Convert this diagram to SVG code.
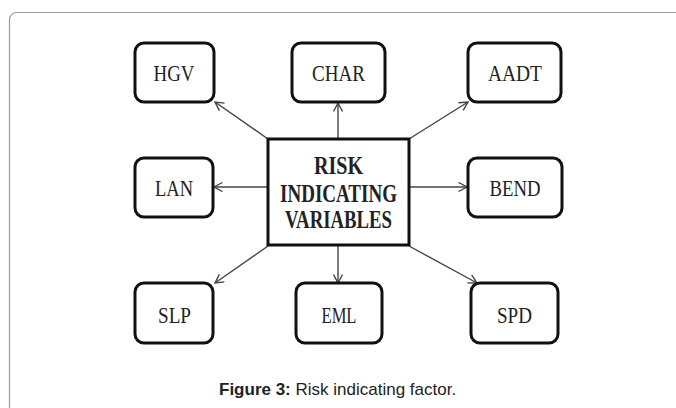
<svg xmlns="http://www.w3.org/2000/svg" width="676" height="408" viewBox="0 0 676 408">
<style>
.node rect{fill:#fff;stroke:#111;stroke-width:3}
.lbl{font-family:"Liberation Serif","Times New Roman",serif;font-size:24px;fill:#222;text-anchor:middle}
.ctr{font-family:"Liberation Serif","Times New Roman",serif;font-size:25px;font-weight:bold;fill:#222;text-anchor:middle}
.conn line{stroke:#444;stroke-width:1.4;marker-end:url(#ah)}
.cap{font-family:"Liberation Sans",Arial,sans-serif;font-size:17px;fill:#222}
</style>
<defs>
<marker id="ah" markerUnits="userSpaceOnUse" markerWidth="12" markerHeight="12" refX="9" refY="5" orient="auto">
<path d="M0.5,0.5 L9,5 L0.5,9.5" fill="none" stroke="#444" stroke-width="1.4"/>
</marker>
</defs>
<rect x="9.5" y="12.5" width="700" height="430" rx="7" fill="#fff" stroke="#9a9a9a" stroke-width="1.2"/>
<g class="conn">
<line x1="268" y1="139" x2="215" y2="102"/>
<line x1="338" y1="139" x2="338" y2="103"/>
<line x1="409" y1="139" x2="468" y2="102"/>
<line x1="268" y1="187" x2="214" y2="187"/>
<line x1="409" y1="187" x2="467" y2="187"/>
<line x1="268" y1="246" x2="215" y2="283"/>
<line x1="338" y1="246" x2="338" y2="283"/>
<line x1="409" y1="246" x2="477" y2="283"/>
</g>
<g id="center" class="node">
<rect x="268" y="139" width="141" height="106" rx="0"/>
<text class="ctr" x="338.5" y="174" textLength="49" lengthAdjust="spacingAndGlyphs">RISK</text>
<text class="ctr" x="338.5" y="202" textLength="117" lengthAdjust="spacingAndGlyphs">INDICATING</text>
<text class="ctr" x="338.5" y="228" textLength="107" lengthAdjust="spacingAndGlyphs">VARIABLES</text>
</g>
<g id="hgv" class="node">
<rect x="135" y="43" width="79" height="59" rx="9"/>
<text class="lbl" x="174" y="81" textLength="41" lengthAdjust="spacingAndGlyphs">HGV</text>
</g>
<g id="char" class="node">
<rect x="292" y="43" width="93" height="59" rx="9"/>
<text class="lbl" x="338.5" y="81" textLength="53" lengthAdjust="spacingAndGlyphs">CHAR</text>
</g>
<g id="aadt" class="node">
<rect x="468" y="43" width="93" height="59" rx="9"/>
<text class="lbl" x="515" y="81" textLength="54" lengthAdjust="spacingAndGlyphs">AADT</text>
</g>
<g id="lan" class="node">
<rect x="135" y="158" width="78" height="59" rx="9"/>
<text class="lbl" x="174" y="196" textLength="38" lengthAdjust="spacingAndGlyphs">LAN</text>
</g>
<g id="bend" class="node">
<rect x="468" y="158" width="94" height="59" rx="9"/>
<text class="lbl" x="515" y="196" textLength="51" lengthAdjust="spacingAndGlyphs">BEND</text>
</g>
<g id="slp" class="node">
<rect x="135" y="283" width="78" height="60" rx="9"/>
<text class="lbl" x="174.5" y="323" textLength="33" lengthAdjust="spacingAndGlyphs">SLP</text>
</g>
<g id="eml" class="node">
<rect x="296" y="283" width="86" height="60" rx="9"/>
<text class="lbl" x="339" y="323" textLength="35" lengthAdjust="spacingAndGlyphs">EML</text>
</g>
<g id="spd" class="node">
<rect x="471" y="283" width="87" height="60" rx="9"/>
<text class="lbl" x="514.5" y="323" textLength="35" lengthAdjust="spacingAndGlyphs">SPD</text>
</g>
<text class="cap" x="219" y="395"><tspan font-weight="bold">Figure 3:</tspan> Risk indicating factor.</text>
</svg>
